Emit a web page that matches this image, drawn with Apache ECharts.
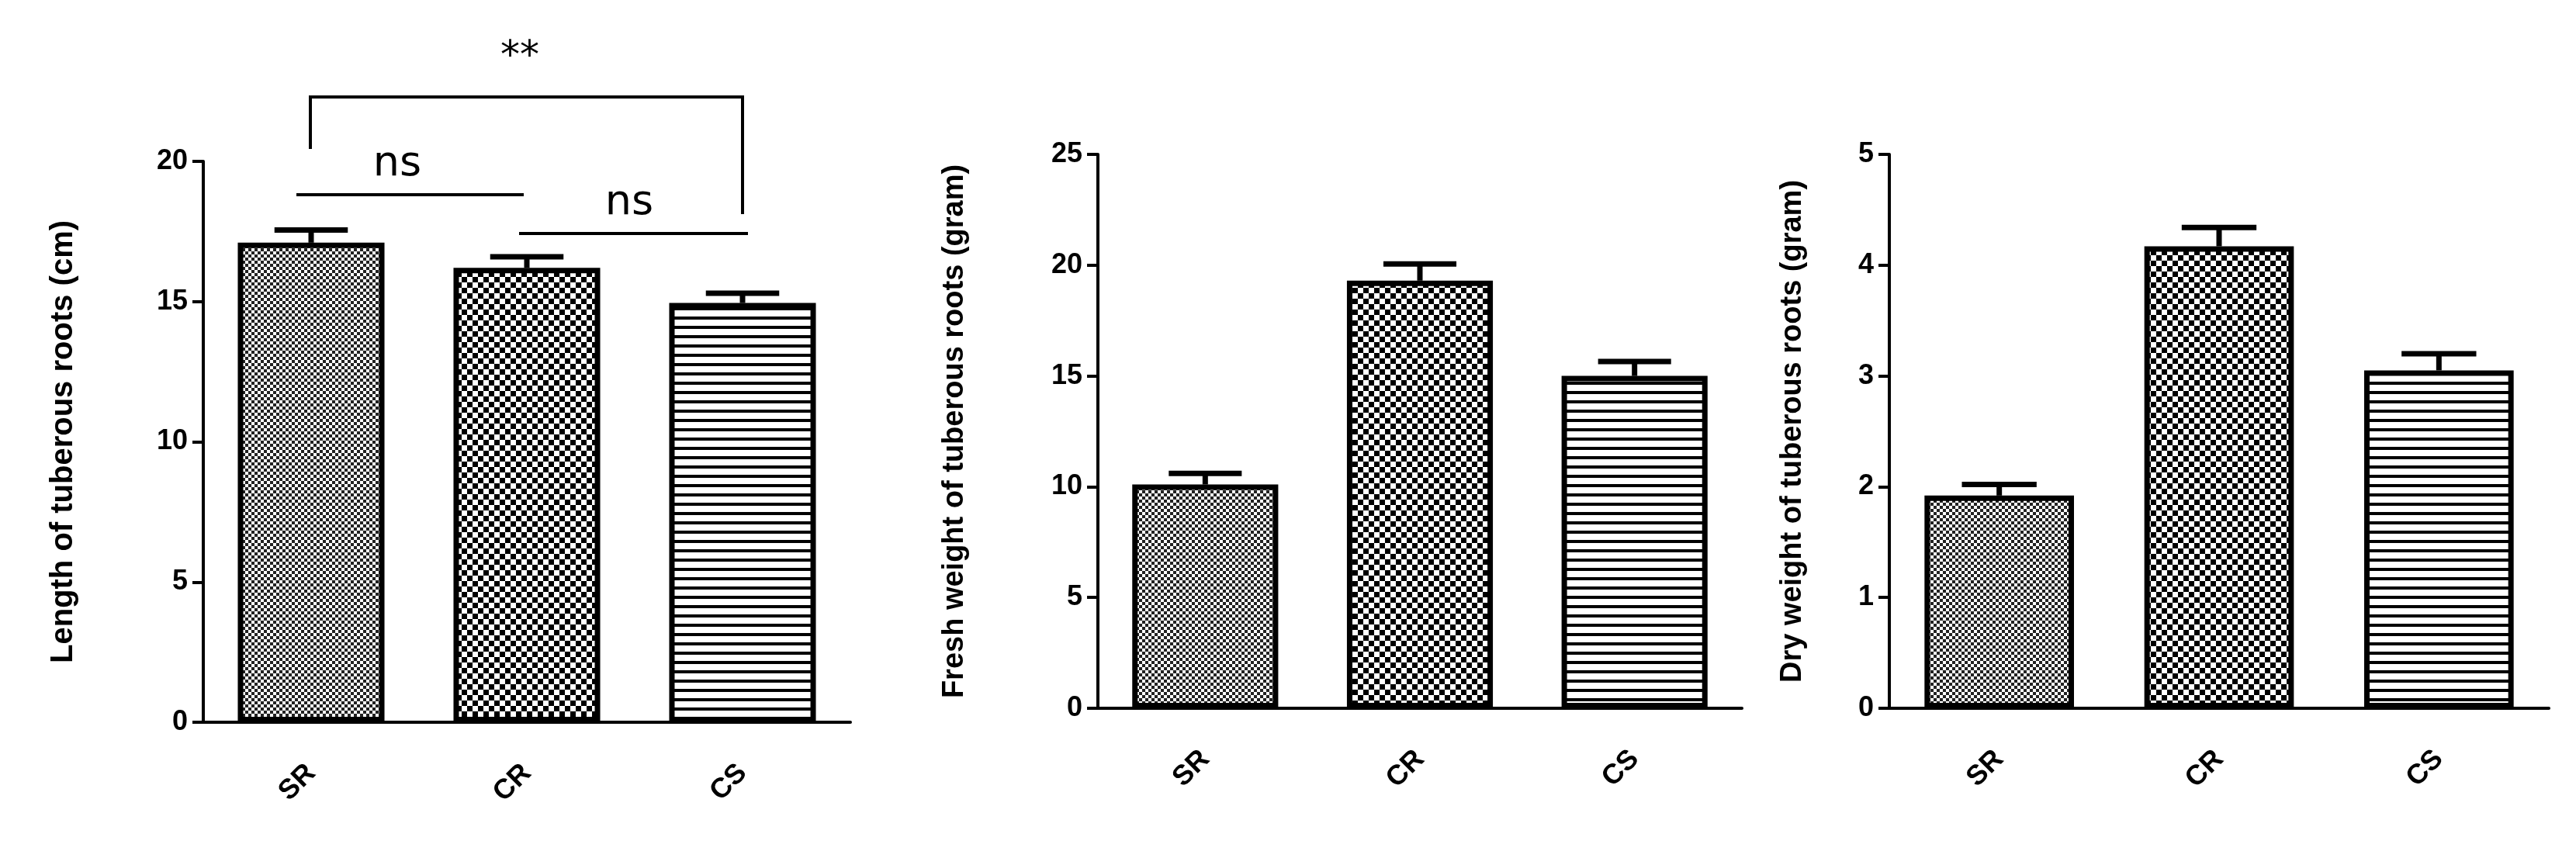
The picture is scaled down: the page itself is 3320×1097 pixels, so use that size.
<!DOCTYPE html>
<html>
<head>
<meta charset="utf-8">
<script src="https://cdn.jsdelivr.net/npm/echarts@6/dist/echarts.min.js"></script>
<style>
  html, body { margin: 0; background: #fff; }
  #main { width: 3320px; height: 1097px; }
</style>
</head>
<body>
<div id="main"></div>
<script>
var categories = ['SR', 'CR', 'CS'];
var lengthMean = [17.1, 16.2, 14.95];
var lengthErr = [0.45, 0.4, 0.35];
var freshMean = [10.1, 19.3, 15.0];
var freshErr = [0.5, 0.75, 0.65];
var dryMean = [1.92, 4.17, 3.05];
var dryErr = [0.1, 0.17, 0.15];

function makePattern(kind) {
    var c = document.createElement('canvas');
    var ctx = c.getContext('2d');
    if (kind === 'fine') {
        c.width = c.height = 8;
        ctx.fillStyle = '#fff'; ctx.fillRect(0, 0, 8, 8);
        ctx.fillStyle = '#222';
        ctx.fillRect(0, 0, 4, 4); ctx.fillRect(4, 4, 4, 4);
    } else if (kind === 'checker') {
        c.width = c.height = 14;
        ctx.fillStyle = '#fff'; ctx.fillRect(0, 0, 14, 14);
        ctx.fillStyle = '#000';
        ctx.fillRect(0, 0, 7, 7); ctx.fillRect(7, 7, 7, 7);
    } else {
        c.width = c.height = 12;
        ctx.fillStyle = '#fff'; ctx.fillRect(0, 0, 12, 12);
        ctx.fillStyle = '#000';
        ctx.fillRect(0, 0, 12, 4);
    }
    return c;
}
var patterns = [makePattern('fine'), makePattern('checker'), makePattern('lines')];

var chart = echarts.init(document.getElementById('main'));

var grids = [
    { left: 262, width: 834, top: 208, bottom: 166 },
    { left: 1415, width: 830, top: 199, bottom: 184 },
    { left: 2435, width: 850, top: 199, bottom: 184 }
];
var yCfg = [
    { max: 20, interval: 5, name: 'Length of tuberous roots (cm)', gap: 160 },
    { max: 25, interval: 5, name: 'Fresh weight of tuberous roots (gram)', gap: 165 },
    { max: 5, interval: 1, name: 'Dry weight of tuberous roots (gram)', gap: 105 }
];
var means = [lengthMean, freshMean, dryMean];
var errs = [lengthErr, freshErr, dryErr];

var axisLine = { lineStyle: { color: '#000', width: 4 } };
var font = 'Liberation Sans';

var xAxis = [], yAxis = [], series = [];
for (var i = 0; i < 3; i++) {
    xAxis.push({
        type: 'category', gridIndex: i, data: categories,
        axisLine: axisLine,
        axisTick: { alignWithLabel: true, length: 14, lineStyle: { width: 4 } },
        axisLabel: { rotate: 45, margin: 60, color: '#000', fontSize: 36, fontWeight: 'bold', fontFamily: font }
    });
    yAxis.push({
        type: 'value', gridIndex: i, min: 0, max: yCfg[i].max, interval: yCfg[i].interval,
        name: yCfg[i].name, nameLocation: 'middle', nameGap: yCfg[i].gap,
        nameTextStyle: { color: '#000', fontSize: i === 0 ? 40 : 38, fontWeight: 'bold', fontFamily: font },
        axisLine: { show: true, lineStyle: { color: '#000', width: 4 } },
        axisTick: { show: true, length: 14, lineStyle: { width: 4 } },
        axisLabel: { color: '#000', fontSize: 36, fontWeight: 'bold', fontFamily: font, margin: 20 },
        splitLine: { show: false }
    });
    series.push({
        type: 'bar', xAxisIndex: i, yAxisIndex: i, barWidth: '68%',
        data: means[i].map(function (v, k) {
            return { value: v, itemStyle: { color: { image: patterns[k], repeat: 'repeat' } } };
        }),
        itemStyle: { borderColor: '#000', borderWidth: 7 }
    });
    series.push({
        type: 'custom', xAxisIndex: i, yAxisIndex: i, z: 1,
        data: means[i].map(function (v, k) { return [k, v, v + errs[i][k]]; }),
        renderItem: function (params, api) {
            var base = api.coord([api.value(0), api.value(1)]);
            var top = api.coord([api.value(0), api.value(2)]);
            var hw = api.size([1, 0])[0] * 0.17;
            var st = { stroke: '#000', lineWidth: 7 };
            return { type: 'group', children: [
                { type: 'line', shape: { x1: base[0], y1: base[1], x2: top[0], y2: top[1] }, style: st },
                { type: 'line', shape: { x1: top[0] - hw, y1: top[1], x2: top[0] + hw, y2: top[1] }, style: st }
            ] };
        }
    });
}

var lineStyle = { stroke: '#000', lineWidth: 4 };
var txt = { fill: '#000', fontSize: 54, fontFamily: 'DejaVu Sans', textAlign: 'center', textVerticalAlign: 'middle' };

chart.setOption({
    animation: false,
    backgroundColor: '#fff',
    grid: grids,
    xAxis: xAxis,
    yAxis: yAxis,
    series: series,
    graphic: [
        { type: 'polyline', shape: { points: [[400, 192], [400, 125], [957, 125], [957, 276]] }, style: { stroke: '#000', lineWidth: 4, fill: null } },
        { type: 'text', x: 670, y: 74, style: Object.assign({}, txt, { text: '**', fontSize: 50 }) },
        { type: 'line', shape: { x1: 382, y1: 251, x2: 675, y2: 251 }, style: lineStyle },
        { type: 'text', x: 512, y: 212, style: Object.assign({}, txt, { text: 'ns' }) },
        { type: 'line', shape: { x1: 669, y1: 301, x2: 964, y2: 301 }, style: lineStyle },
        { type: 'text', x: 811, y: 262, style: Object.assign({}, txt, { text: 'ns' }) }
    ]
});
</script>
</body>
</html>
